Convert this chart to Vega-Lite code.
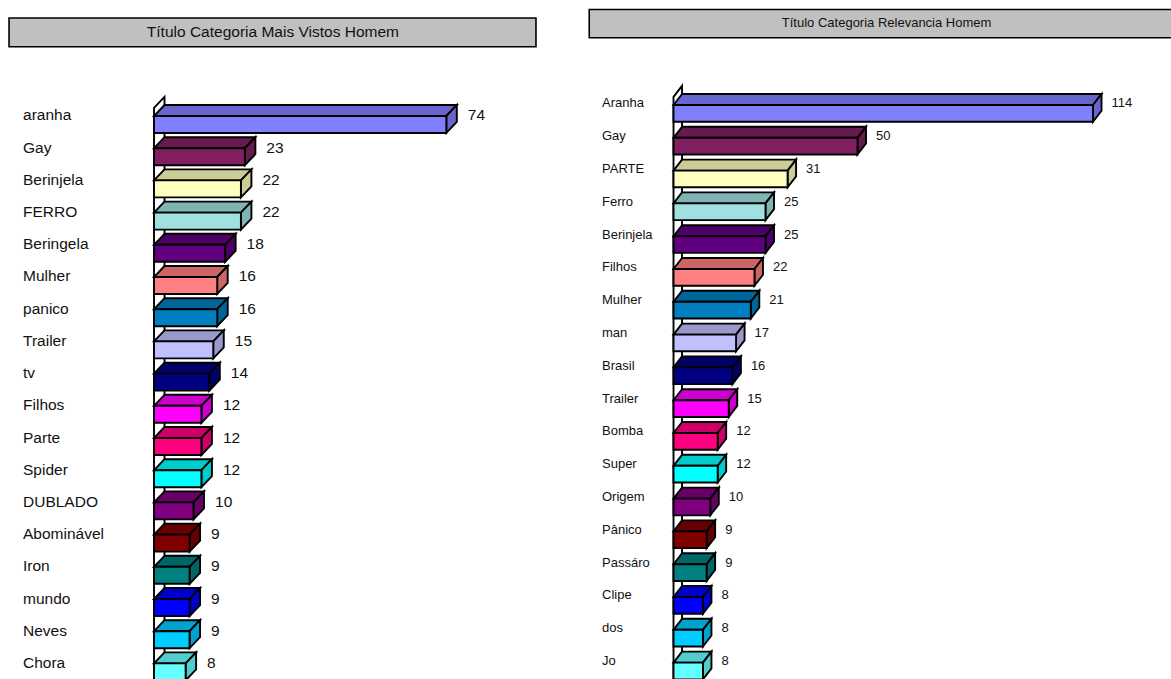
{
"$schema":"https://vega.github.io/schema/vega-lite/v6.json",
"padding":0,"spacing":0,
"background":"white",
"config":{"view":{"stroke":null},"axis":{"disable":true},"concat":{"spacing":0},"legend":{"disable":true}},
"datasets":{
"esq":[{"label":"aranha","value":74},{"label":"Gay","value":23},{"label":"Berinjela","value":22},{"label":"FERRO","value":22},{"label":"Beringela","value":18},{"label":"Mulher","value":16},{"label":"panico","value":16},{"label":"Trailer","value":15},{"label":"tv","value":14},{"label":"Filhos","value":12},{"label":"Parte","value":12},{"label":"Spider","value":12},{"label":"DUBLADO","value":10},{"label":"Abominável","value":9},{"label":"Iron","value":9},{"label":"mundo","value":9},{"label":"Neves","value":9},{"label":"Chora","value":8}],
"dir":[{"label":"Aranha","value":114},{"label":"Gay","value":50},{"label":"PARTE","value":31},{"label":"Ferro","value":25},{"label":"Berinjela","value":25},{"label":"Filhos","value":22},{"label":"Mulher","value":21},{"label":"man","value":17},{"label":"Brasil","value":16},{"label":"Trailer","value":15},{"label":"Bomba","value":12},{"label":"Super","value":12},{"label":"Origem","value":10},{"label":"Pânico","value":9},{"label":"Passáro","value":9},{"label":"Clipe","value":8},{"label":"dos","value":8},{"label":"Jo","value":8}]
},
"hconcat":[
{"width":575,"height":679,
"data":{"name":"esq"},
"transform":[{"window":[{"op":"row_number","as":"n"}]},{"calculate":"datum.n-1","as":"r"},{"calculate":"datum.r+0.528","as":"rb"}],
"resolve":{"scale":{"fill":"independent"}},
"layer":[
{"data":{"values":[{"t":0},{"t":1}]},
"transform":[{"calculate":"datum.t*2.66","as":"px"},{"calculate":"-0.25-datum.t*0.342","as":"py"},{"calculate":"30-datum.t*0.342","as":"py2"}],
"mark":{"type":"area","clip":true,"fill":"white","stroke":"#000","strokeWidth":1.9},
"encoding":{"x":{"field":"px","type":"quantitative","scale":{"domain":[-38.99,106.58],"nice":false,"zero":false}},"y":{"field":"py","type":"quantitative","scale":{"domain":[-3.602,17.484],"reverse":true,"nice":false,"zero":false}},"y2":{"field":"py2"}}},
{"transform":[{"calculate":"[0,1]","as":"t"},{"flatten":["t"]},{"calculate":"datum.t*2.66","as":"a"},{"calculate":"datum.value+datum.t*2.66","as":"b"},{"calculate":"datum.r-datum.t*0.342","as":"c"}],
"mark":{"type":"area","orient":"horizontal","clip":true,"stroke":"#000","strokeWidth":1.9},
"encoding":{"y":{"field":"c","type":"quantitative"},"x":{"field":"a","type":"quantitative"},"x2":{"field":"b"},"fill":{"field":"n","type":"ordinal","scale":{"domain":[1,2,3,4,5,6,7,8,9,10,11,12,13,14,15,16,17,18],"range":["#6666cc","#661a4d","#cccc99","#80b3b3","#4d0066","#cc6666","#006699","#9999cc","#000066","#cc00cc","#cc0066","#00cccc","#660066","#660000","#006666","#0000cc","#00a3cc","#52cccc"]}}}},
{"transform":[{"calculate":"[0,1]","as":"t"},{"flatten":["t"]},{"calculate":"datum.value+datum.t*2.66","as":"a"},{"calculate":"datum.r-datum.t*0.342","as":"c"},{"calculate":"datum.rb-datum.t*0.342","as":"d"}],
"mark":{"type":"area","clip":true,"stroke":"#000","strokeWidth":1.9},
"encoding":{"x":{"field":"a","type":"quantitative"},"y":{"field":"c","type":"quantitative"},"y2":{"field":"d"},"fill":{"field":"n","type":"ordinal","scale":{"domain":[1,2,3,4,5,6,7,8,9,10,11,12,13,14,15,16,17,18],"range":["#6666cc","#661a4d","#cccc99","#80b3b3","#4d0066","#cc6666","#006699","#9999cc","#000066","#cc00cc","#cc0066","#00cccc","#660066","#660000","#006666","#0000cc","#00a3cc","#52cccc"]}}}},
{"mark":{"type":"rect","clip":true,"stroke":"#000","strokeWidth":1.9},
"encoding":{"x":{"field":"value","type":"quantitative"},"x2":{"datum":0},"y":{"field":"r","type":"quantitative"},"y2":{"field":"rb"},"fill":{"field":"n","type":"ordinal","scale":{"domain":[1,2,3,4,5,6,7,8,9,10,11,12,13,14,15,16,17,18],"range":["#8080ff","#802060","#ffffc0","#a0e0e0","#600080","#ff8080","#0080c0","#c0c0ff","#000080","#ff00ff","#ff0080","#00ffff","#800080","#800000","#008080","#0000ff","#00ccff","#66ffff"]}}}},
{"mark":{"type":"text","align":"left","baseline":"middle","dy":-0.5,"font":"Liberation Sans","fontSize":15.5,"color":"#111"},
"encoding":{"x":{"datum":-33.16},"y":{"field":"r","type":"quantitative"},"text":{"field":"label"}}},
{"mark":{"type":"text","align":"left","baseline":"middle","dx":21.5,"dy":-0.5,"font":"Liberation Sans","fontSize":15.5,"color":"#111"},
"encoding":{"x":{"field":"value","type":"quantitative"},"y":{"field":"r","type":"quantitative"},"text":{"field":"value","type":"quantitative"}}},
{"data":{"values":[{"titulo":"Título Categoria Mais Vistos Homem","x0":-36.7,"x1":96.7,"y0":-3.043,"y1":-2.152}]},
"mark":{"type":"rect","fill":"#c0c0c0","stroke":"#000","strokeWidth":1.6},
"encoding":{"x":{"field":"x0","type":"quantitative"},"x2":{"field":"x1"},"y":{"field":"y0","type":"quantitative"},"y2":{"field":"y1"}}},
{"data":{"values":[{"titulo":"Título Categoria Mais Vistos Homem","xc":30.1,"yc":-2.6}]},
"mark":{"type":"text","align":"center","baseline":"middle","font":"Liberation Sans","fontSize":15.5,"color":"#111"},
"encoding":{"x":{"field":"xc","type":"quantitative"},"y":{"field":"yc","type":"quantitative"},"text":{"field":"titulo"}}}
]},
{"width":596,"height":679,
"data":{"name":"dir"},
"transform":[{"window":[{"op":"row_number","as":"n"}]},{"calculate":"datum.n-1","as":"r"},{"calculate":"datum.r+0.51","as":"rb"}],
"resolve":{"scale":{"fill":"independent"}},
"layer":[
{"data":{"values":[{"t":0},{"t":1}]},
"transform":[{"calculate":"datum.t*2.31","as":"px"},{"calculate":"-0.25-datum.t*0.335","as":"py"},{"calculate":"30-datum.t*0.335","as":"py2"}],
"mark":{"type":"area","clip":true,"fill":"white","stroke":"#000","strokeWidth":1.9},
"encoding":{"x":{"field":"px","type":"quantitative","scale":{"domain":[-26.77,135.19],"nice":false,"zero":false}},"y":{"field":"py","type":"quantitative","scale":{"domain":[-3.201,17.5],"reverse":true,"nice":false,"zero":false}},"y2":{"field":"py2"}}},
{"transform":[{"calculate":"[0,1]","as":"t"},{"flatten":["t"]},{"calculate":"datum.t*2.31","as":"a"},{"calculate":"datum.value+datum.t*2.31","as":"b"},{"calculate":"datum.r-datum.t*0.335","as":"c"}],
"mark":{"type":"area","orient":"horizontal","clip":true,"stroke":"#000","strokeWidth":1.9},
"encoding":{"y":{"field":"c","type":"quantitative"},"x":{"field":"a","type":"quantitative"},"x2":{"field":"b"},"fill":{"field":"n","type":"ordinal","scale":{"domain":[1,2,3,4,5,6,7,8,9,10,11,12,13,14,15,16,17,18],"range":["#6666cc","#661a4d","#cccc99","#80b3b3","#4d0066","#cc6666","#006699","#9999cc","#000066","#cc00cc","#cc0066","#00cccc","#660066","#660000","#006666","#0000cc","#00a3cc","#52cccc"]}}}},
{"transform":[{"calculate":"[0,1]","as":"t"},{"flatten":["t"]},{"calculate":"datum.value+datum.t*2.31","as":"a"},{"calculate":"datum.r-datum.t*0.335","as":"c"},{"calculate":"datum.rb-datum.t*0.335","as":"d"}],
"mark":{"type":"area","clip":true,"stroke":"#000","strokeWidth":1.9},
"encoding":{"x":{"field":"a","type":"quantitative"},"y":{"field":"c","type":"quantitative"},"y2":{"field":"d"},"fill":{"field":"n","type":"ordinal","scale":{"domain":[1,2,3,4,5,6,7,8,9,10,11,12,13,14,15,16,17,18],"range":["#6666cc","#661a4d","#cccc99","#80b3b3","#4d0066","#cc6666","#006699","#9999cc","#000066","#cc00cc","#cc0066","#00cccc","#660066","#660000","#006666","#0000cc","#00a3cc","#52cccc"]}}}},
{"mark":{"type":"rect","clip":true,"stroke":"#000","strokeWidth":1.9},
"encoding":{"x":{"field":"value","type":"quantitative"},"x2":{"datum":0},"y":{"field":"r","type":"quantitative"},"y2":{"field":"rb"},"fill":{"field":"n","type":"ordinal","scale":{"domain":[1,2,3,4,5,6,7,8,9,10,11,12,13,14,15,16,17,18],"range":["#8080ff","#802060","#ffffc0","#a0e0e0","#600080","#ff8080","#0080c0","#c0c0ff","#000080","#ff00ff","#ff0080","#00ffff","#800080","#800000","#008080","#0000ff","#00ccff","#66ffff"]}}}},
{"mark":{"type":"text","align":"left","baseline":"middle","dy":-1.5,"font":"Liberation Sans","fontSize":13,"color":"#111"},
"encoding":{"x":{"datum":-19.43},"y":{"field":"r","type":"quantitative"},"text":{"field":"label"}}},
{"mark":{"type":"text","align":"left","baseline":"middle","dx":18.5,"dy":-1.5,"font":"Liberation Sans","fontSize":13,"color":"#111"},
"encoding":{"x":{"field":"value","type":"quantitative"},"y":{"field":"r","type":"quantitative"},"text":{"field":"value","type":"quantitative"}}},
{"data":{"values":[{"titulo":"Título Categoria Relevancia Homem","x0":-22.9,"x1":136,"y0":-2.912,"y1":-2.05}]},
"mark":{"type":"rect","clip":true,"fill":"#c0c0c0","stroke":"#000","strokeWidth":1.6},
"encoding":{"x":{"field":"x0","type":"quantitative"},"x2":{"field":"x1"},"y":{"field":"y0","type":"quantitative"},"y2":{"field":"y1"}}},
{"data":{"values":[{"titulo":"Título Categoria Relevancia Homem","xc":57.9,"yc":-2.5}]},
"mark":{"type":"text","align":"center","baseline":"middle","font":"Liberation Sans","fontSize":13,"color":"#111"},
"encoding":{"x":{"field":"xc","type":"quantitative"},"y":{"field":"yc","type":"quantitative"},"text":{"field":"titulo"}}}
]}
]}
